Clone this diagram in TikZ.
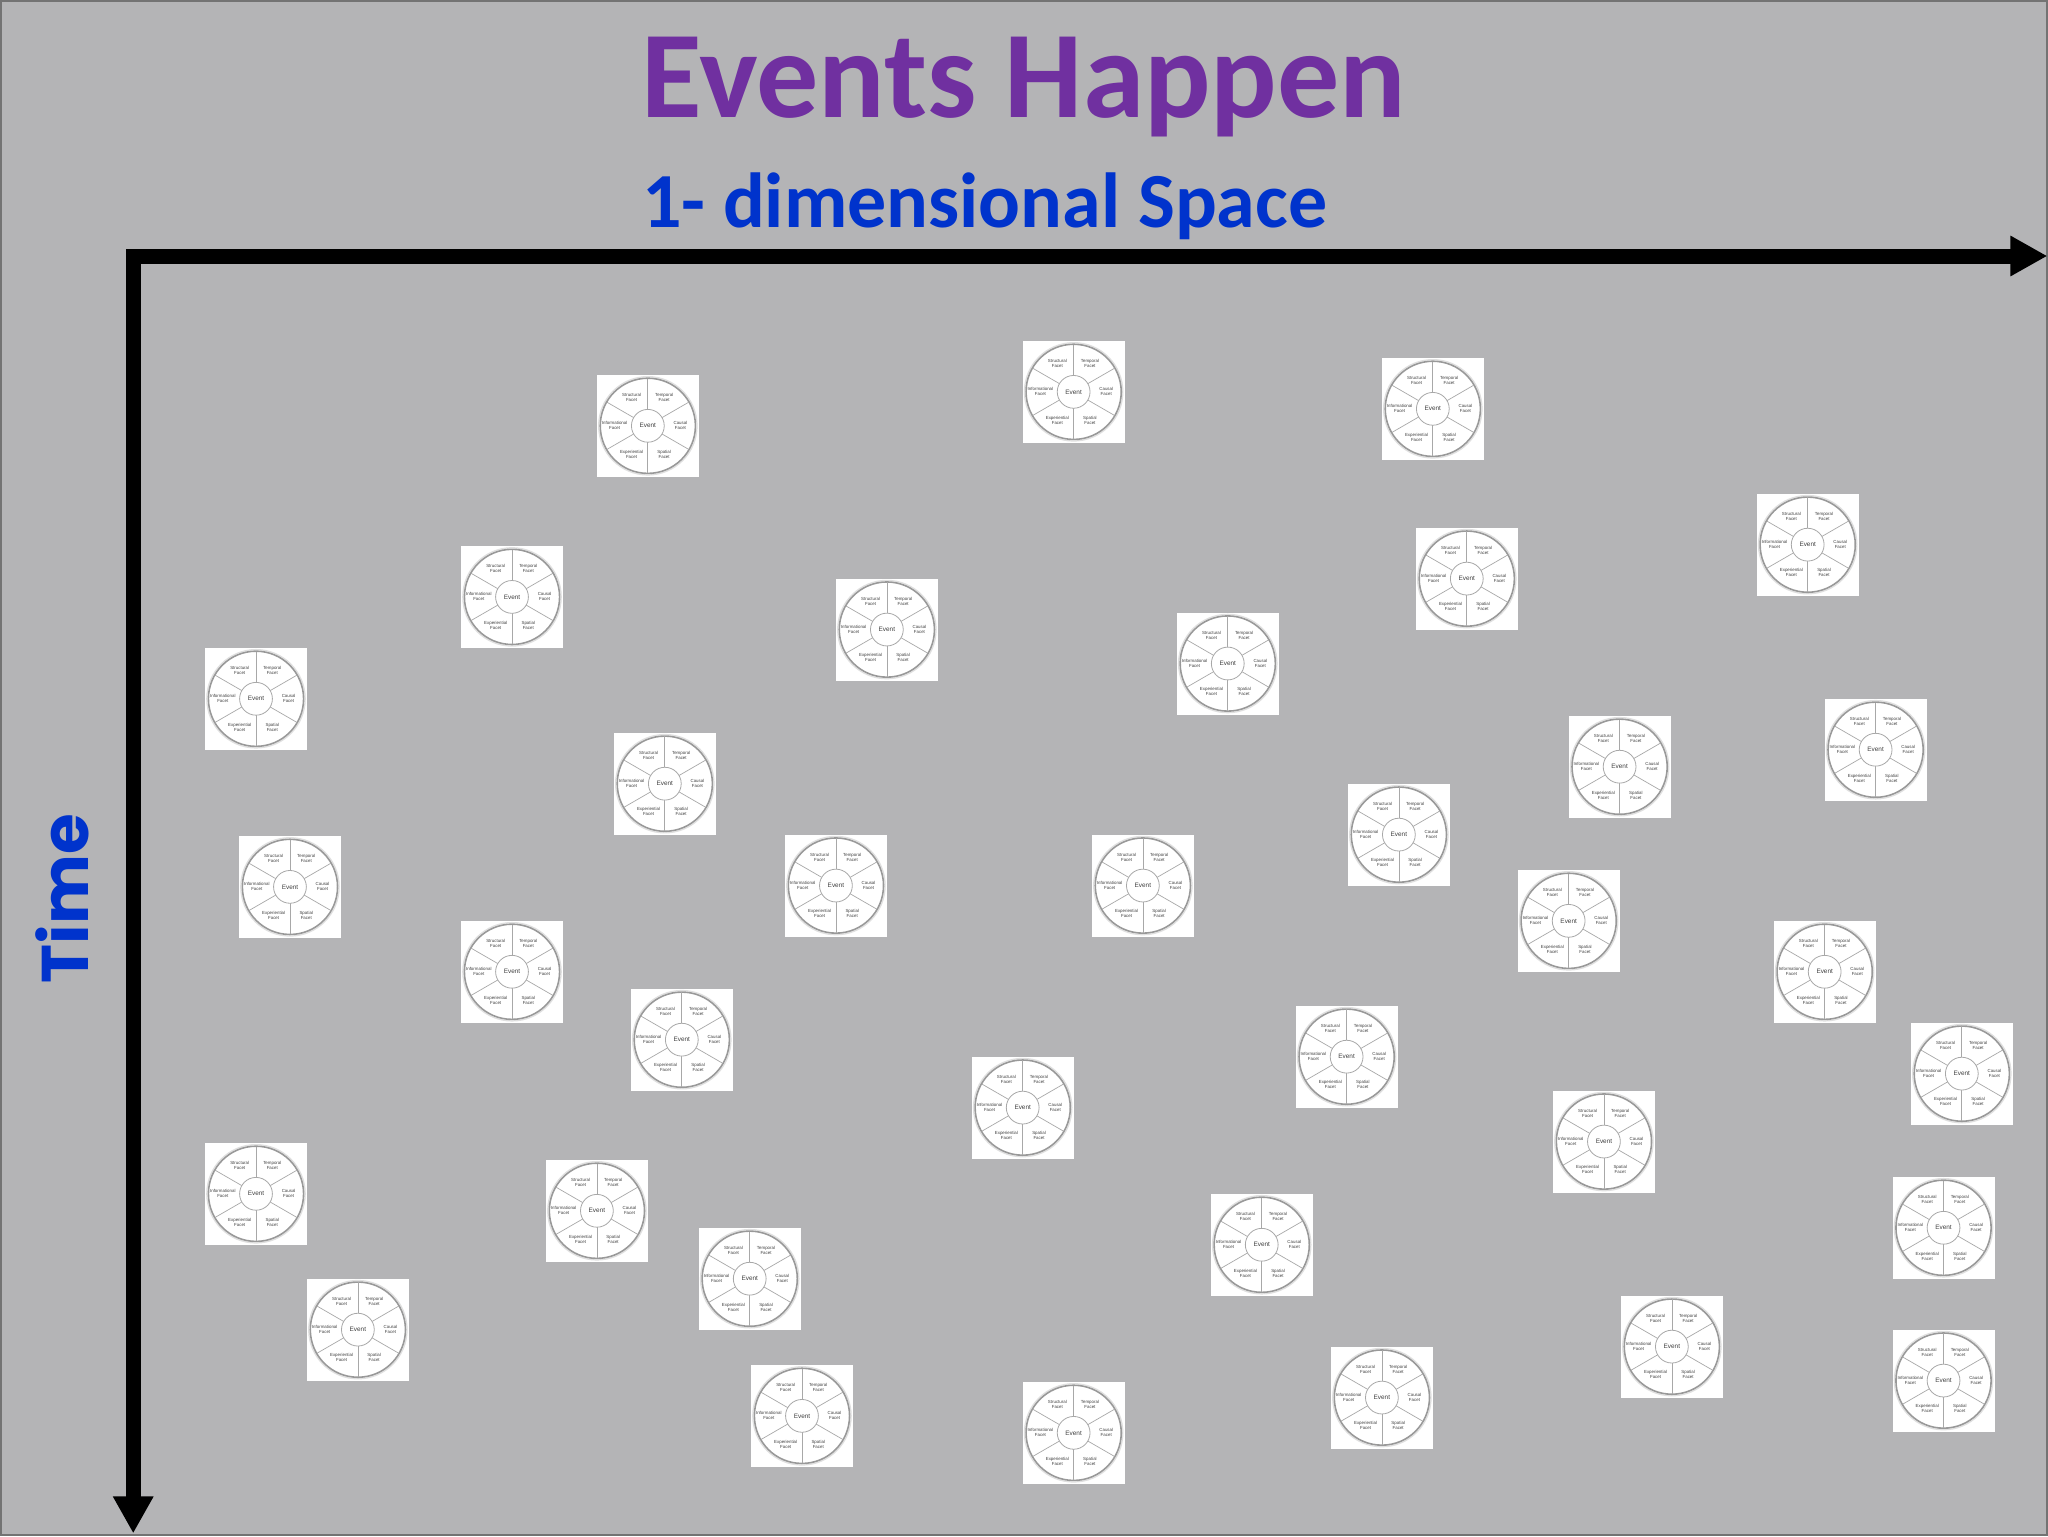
\documentclass[tikz,border=0pt]{standalone}
\usepackage{fontspec}
\usetikzlibrary{arrows.meta}
\newfontfamily\titlefont{Carlito}
\newfontfamily\timefont{Poppins}
\newfontfamily\iconfont{Liberation Sans}
\definecolor{bgcol}{HTML}{B4B4B6}
\definecolor{titlepurple}{HTML}{7030A0}
\definecolor{axisblue}{HTML}{0033CC}
\definecolor{ringgray}{HTML}{999999}
\definecolor{spokegray}{HTML}{A8A8A8}
\tikzset{
  iconbox/.style={rectangle, fill=white, minimum size=51pt, inner sep=0pt},
  ringline/.style={draw=ringgray, line width=0.8pt},
  ringshade/.style={draw=black!12, line width=0.6pt},
  spoke/.style={draw=spokegray, line width=0.35pt},
  hub/.style={circle, draw=spokegray, line width=0.4pt, fill=white, minimum size=16.4pt, inner sep=0pt, text=black!75, font=\iconfont\fontsize{3.2}{3.4}\selectfont},
  facet/.style={align=center, inner sep=0pt, text=black!75, font=\iconfont\fontsize{2.2}{2.5}\selectfont},
  axisline/.style={line width=7.5pt, draw=black, line join=miter},
  eventicon/.pic={
    \node[iconbox] (-box) at (0,0) {};
    \draw[ringshade] (0,0) circle (24.6pt);
    \draw[ringline] (0,0) circle (23.8pt);
    \foreach \a in {90,30,-30,-90,-150,150} \draw[spoke] (\a:8.2pt) -- (\a:23.6pt);
    \node[hub] (-hub) at (0,0) {Event};
    \node[facet] (-st) at (120:16.3pt) {Structural\\Facet};
    \node[facet] (-te) at (60:16.3pt) {Temporal\\Facet};
    \node[facet] (-ca) at (0:16.3pt) {Causal\\Facet};
    \node[facet] (-sp) at (-60:16.3pt) {Spatial\\Facet};
    \node[facet] (-ex) at (-120:16.3pt) {Experiential\\Facet};
    \node[facet] (-in) at (180:16.6pt) {Informational\\Facet};
  }
}
\begin{document}
\begin{tikzpicture}[x=0.65306pt, y=-0.65306pt]
\useasboundingbox (0,0) rectangle (1568,1176);
\fill[bgcol] (0,0) rectangle (1568,1176);
\draw[black!55, line width=1pt] (0.8,0.8) rectangle (1567.2,1175.2);

% titles
\node[anchor=base, inner sep=0pt, text=titlepurple, font=\titlefont\bfseries\fontsize{62}{62}\selectfont] (title) at (784,90.3) {Events Happen};
\node[anchor=base, inner sep=0pt, text=axisblue, font=\titlefont\bfseries\fontsize{39}{39}\selectfont] (space) at (753.8,173.8) {1- dimensional Space};
\node[anchor=base, inner sep=0pt, rotate=90, text=axisblue, font=\timefont\bfseries\fontsize{33}{33}\selectfont] (time) at (68,688) {Time};

% axes
\coordinate (origin) at (102,196);
\coordinate (xend) at (1567.5,196);
\coordinate (yend) at (102,1174);
\draw[axisline, {Triangle[length=18.5pt, width=19pt]}-{Triangle[length=18.5pt, width=19pt]}] (xend) -- (origin) -- (yend);

% events
\pic (e1) at (496,326) {eventicon};
\pic (e2) at (822,300) {eventicon};
\pic (e3) at (1097,313) {eventicon};
\pic (e4) at (1384,417) {eventicon};
\pic (e5) at (392,457) {eventicon};
\pic (e6) at (679,482) {eventicon};
\pic (e7) at (1123,443) {eventicon};
\pic (e8) at (940,508) {eventicon};
\pic (e9) at (196,535) {eventicon};
\pic (e10) at (509,600) {eventicon};
\pic (e11) at (1240,587) {eventicon};
\pic (e12) at (1436,574) {eventicon};
\pic (e13) at (1071,639) {eventicon};
\pic (e14) at (222,679) {eventicon};
\pic (e15) at (640,678) {eventicon};
\pic (e16) at (875,678) {eventicon};
\pic (e17) at (1201,705) {eventicon};
\pic (e18) at (392,744) {eventicon};
\pic (e19) at (1397,744) {eventicon};
\pic (e20) at (522,796) {eventicon};
\pic (e21) at (1031,809) {eventicon};
\pic (e22) at (1502,822) {eventicon};
\pic (e23) at (783,848) {eventicon};
\pic (e24) at (1228,874) {eventicon};
\pic (e25) at (196,914) {eventicon};
\pic (e26) at (457,927) {eventicon};
\pic (e27) at (966,953) {eventicon};
\pic (e28) at (1488,940) {eventicon};
\pic (e29) at (574,979) {eventicon};
\pic (e30) at (274,1018) {eventicon};
\pic (e31) at (1280,1031) {eventicon};
\pic (e32) at (1058,1070) {eventicon};
\pic (e33) at (1488,1057) {eventicon};
\pic (e34) at (614,1084) {eventicon};
\pic (e35) at (822,1097) {eventicon};
\end{tikzpicture}
\end{document}
